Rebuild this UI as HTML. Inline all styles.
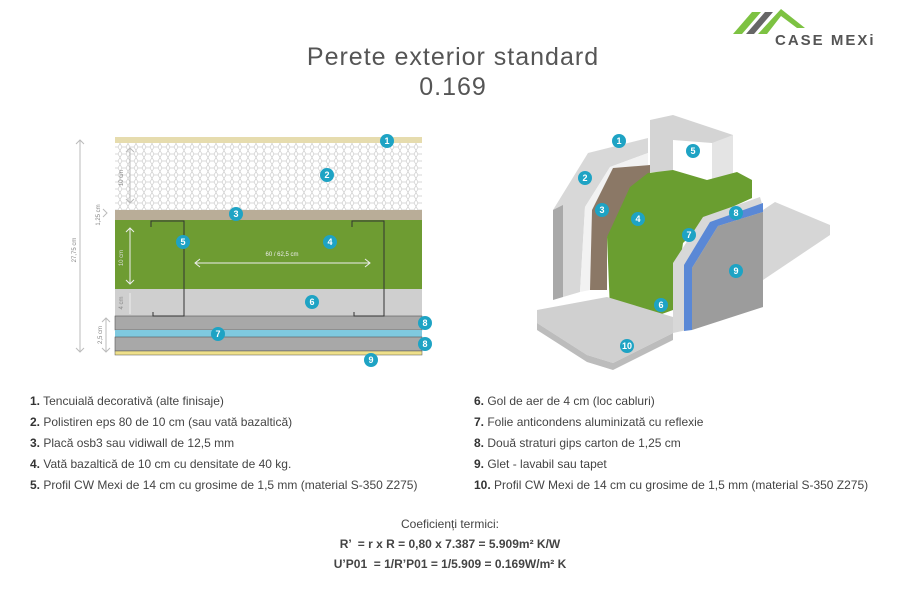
<!DOCTYPE html>
<html><head><meta charset="utf-8"><style>
body{margin:0;width:900px;height:600px;background:#fff;font-family:"Liberation Sans",sans-serif;position:relative;overflow:hidden}
.t{position:absolute;color:#444;font-size:12px}
.t b{color:#333}
.c{position:absolute;left:0;width:906px;text-align:center;color:#555}
.n{position:absolute;width:14px;height:14px;border-radius:50%;background:#1ea3c4;color:#fff;font-size:9px;font-weight:bold;text-align:center;line-height:14px}
</style></head><body>
<svg width="900" height="600" style="position:absolute;left:0;top:0">
<defs>
<pattern id="hex" width="8" height="7" patternUnits="userSpaceOnUse"><path d="M0 3.5 L2 0 L6 0 L8 3.5 L6 7 L2 7 Z" fill="#fff" stroke="#ccc" stroke-width="0.7"/></pattern>
</defs>
<!-- logo -->
<polygon points="733,34 752,12 761,12 742,34" fill="#7dc242"/>
<polygon points="746,34 765,12 773,12 754,34" fill="#666"/>
<polygon points="758,34 781,9 805,28 797,28 781,16 767,34" fill="#7dc242"/>
<text x="775" y="45" font-size="15" fill="#555" font-family="Liberation Sans" letter-spacing="2" font-weight="bold">CASE MEXi</text>
<!-- left diagram -->
<rect x="115" y="137" width="307" height="6" fill="#e6dcae"/>
<rect x="115" y="143" width="307" height="67" fill="url(#hex)"/>
<rect x="115" y="210" width="307" height="10" fill="#b9ad98"/>
<rect x="115" y="220" width="307" height="69" fill="#6e9c32"/>
<rect x="115" y="289" width="307" height="27" fill="#cfcfcf"/>
<rect x="115" y="316" width="307" height="14" fill="#a8a8a8" stroke="#555" stroke-width="0.6"/>
<rect x="115" y="330" width="307" height="7" fill="#7fc9df"/>
<rect x="115" y="337" width="307" height="14" fill="#a8a8a8" stroke="#555" stroke-width="0.6"/>
<rect x="115" y="351" width="307" height="4" fill="#efe08a" stroke="#555" stroke-width="0.5"/>
<polyline points="151,227 151,221 184,221 184,316 153,316 153,312" fill="none" stroke="#333" stroke-width="1"/>
<polyline points="352,227 352,221 384,221 384,316 354,316 354,312" fill="none" stroke="#333" stroke-width="1"/>
<g stroke="#eee" stroke-width="1" fill="none">
<line x1="195" y1="263" x2="370" y2="263"/><polyline points="200,259 195,263 200,267"/><polyline points="365,259 370,263 365,267"/>
<line x1="130" y1="228" x2="130" y2="284"/><polyline points="126,232 130,228 134,232"/><polyline points="126,280 130,284 134,280"/>
<line x1="130" y1="293" x2="130" y2="314"/>
</g>
<g stroke="#bbb" stroke-width="1" fill="none">
<line x1="130" y1="148" x2="130" y2="203"/><polyline points="126,152 130,148 134,152"/><polyline points="126,199 130,203 134,199"/>
<line x1="80" y1="140" x2="80" y2="352"/><polyline points="76,144 80,140 84,144"/><polyline points="76,348 80,352 84,348"/>
<line x1="106" y1="318" x2="106" y2="352"/><polyline points="102,322 106,318 110,322"/><polyline points="102,348 106,352 110,348"/>
<polyline points="103,209 107,213 103,217"/>
</g>
<text x="282" y="256" font-size="6" fill="#eee" text-anchor="middle">60 / 62,5 cm</text>
<g font-size="6" fill="#888">
<text transform="translate(76,250) rotate(-90)" text-anchor="middle">27,75 cm</text>
<text transform="translate(102,335) rotate(-90)" text-anchor="middle">2,5 cm</text>
<text transform="translate(100,215) rotate(-90)" text-anchor="middle">1,25 cm</text>
<text transform="translate(123,178) rotate(-90)" text-anchor="middle">10 cm</text>
<text transform="translate(123,258) rotate(-90)" text-anchor="middle" fill="#ddd">10 cm</text>
<text transform="translate(123,303) rotate(-90)" text-anchor="middle">4 cm</text>
</g>
<!-- 3D -->
<polygon points="553,210 588,153 648,138 648,153 610,167 585,207 580,292 563,297" fill="#d8d8d8"/>
<polygon points="553,210 563,205 563,297 553,300" fill="#a9a9a9"/>
<polygon points="585,207 610,167 648,153 648,165 613,168 592,210 590,290 580,292" fill="#f2f2f2"/>
<polygon points="592,210 613,168 650,165 650,200 607,237 607,290 590,290" fill="#8b7866"/>
<polygon points="650,120 673,115 733,135 733,207 712,210 712,143 673,140 673,172 650,172" fill="#d4d4d4"/>
<polygon points="712,143 733,135 733,207 712,210" fill="#e4e4e4"/>
<polygon points="607,237 630,187 648,173 673,170 707,180 737,172 752,180 752,198 710,217 683,243 673,310 637,323 610,310" fill="#6a9e30"/>
<polygon points="537,310 607,297 673,317 673,333 613,363 587,355 537,323" fill="#d0d0d0"/>
<polygon points="537,323 587,355 613,363 673,333 673,340 613,370 587,362 537,330" fill="#bcbcbc"/>
<polygon points="763,210 775,202 830,225 830,235 763,280" fill="#d6d6d6"/>
<polygon points="673,263 703,217 760,197 763,207 763,307 687,330 673,333" fill="#d8d8d8"/>
<polygon points="684,265 710,222 763,203 763,212 718,226 692,268 692,330 684,331" fill="#5a88d6"/>
<polygon points="692,268 718,226 763,212 763,307 692,330" fill="#9c9c9c"/>
</svg>
<div class="c" style="top:42px;font-size:25px;letter-spacing:1px;line-height:30px">Perete exterior standard<br>0.169</div>
<div class="t" style="left:30px;top:391px;line-height:21px"><b>1.</b> Tencuială decorativă (alte finisaje)<br><b>2.</b> Polistiren eps 80 de 10 cm (sau vată bazaltică)<br><b>3.</b> Placă osb3 sau vidiwall de 12,5 mm<br><b>4.</b> Vată bazaltică de 10 cm cu densitate de 40 kg.<br><b>5.</b> Profil CW Mexi de 14 cm cu grosime de 1,5 mm (material S-350 Z275)</div>
<div class="t" style="left:474px;top:391px;line-height:21px"><b>6.</b> Gol de aer de 4 cm (loc cabluri)<br><b>7.</b> Folie anticondens aluminizată cu reflexie<br><b>8.</b> Două straturi gips carton de 1,25 cm<br><b>9.</b> Glet - lavabil sau tapet<br><b>10.</b> Profil CW Mexi de 14 cm cu grosime de 1,5 mm (material S-350 Z275)</div>
<div class="c" style="top:514px;font-size:12px;line-height:20px;color:#444;width:900px">Coeficienți termici:<br><b>R’ &nbsp;= r x R = 0,80 x 7.387 = 5.909m² K/W</b><br><b>U’P01 &nbsp;= 1/R’P01 = 1/5.909 = 0.169W/m² K</b></div>
<div class="n" style="left:380px;top:134px">1</div><div class="n" style="left:320px;top:168px">2</div><div class="n" style="left:229px;top:207px">3</div><div class="n" style="left:323px;top:235px">4</div><div class="n" style="left:176px;top:235px">5</div><div class="n" style="left:305px;top:295px">6</div><div class="n" style="left:211px;top:327px">7</div><div class="n" style="left:418px;top:316px">8</div><div class="n" style="left:418px;top:337px">8</div><div class="n" style="left:364px;top:353px">9</div>
<div class="n" style="left:612px;top:134px">1</div><div class="n" style="left:578px;top:171px">2</div><div class="n" style="left:595px;top:203px">3</div><div class="n" style="left:631px;top:212px">4</div><div class="n" style="left:686px;top:144px">5</div><div class="n" style="left:654px;top:298px">6</div><div class="n" style="left:682px;top:228px">7</div><div class="n" style="left:729px;top:206px">8</div><div class="n" style="left:729px;top:264px">9</div><div class="n" style="left:620px;top:339px">10</div>
</body></html>
